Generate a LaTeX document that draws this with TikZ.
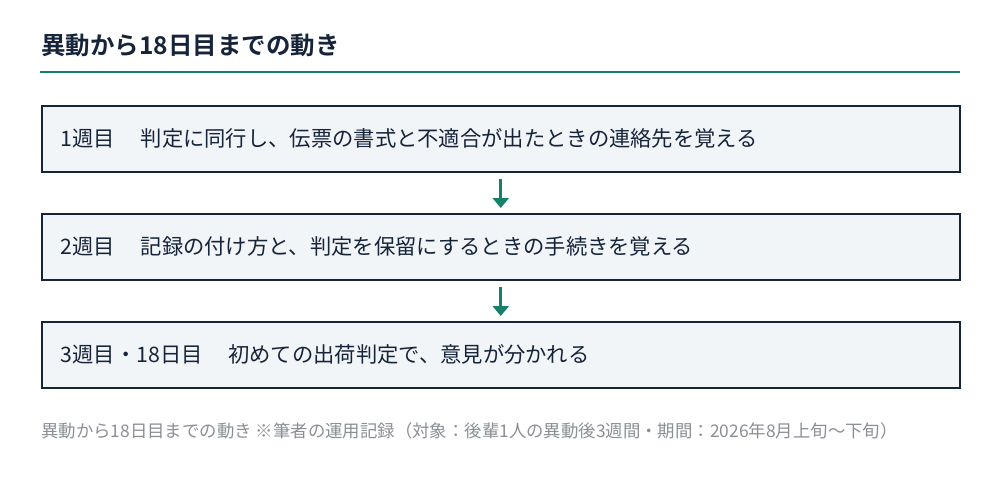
\documentclass[tikz,border=0pt]{standalone}
\usepackage{fontspec}
\setmainfont{Noto Sans CJK JP}
\newfontfamily\jpbold{Noto Sans CJK JP Bold}
\usetikzlibrary{positioning}
\usetikzlibrary{arrows.meta}
\definecolor{navy}{HTML}{16243A}
\definecolor{teal}{HTML}{17806A}
\definecolor{boxfill}{HTML}{F2F5F8}
\definecolor{capgray}{HTML}{8A8F96}

\begin{document}
\begin{tikzpicture}[x=1pt, y=-1pt, >=Stealth,
  weekbox/.style={draw=navy, line width=1.5pt, fill=boxfill, minimum width=918pt,
    minimum height=66pt, anchor=north west, text=navy, font=\fontsize{21.3}{24}\selectfont,
    text width=880pt, align=left, inner xsep=19pt},
  flow/.style={->, teal, line width=2.6pt, shorten <=6pt, shorten >=5pt,
    >={Triangle[length=10pt,width=16pt]}}]

\useasboundingbox (0,0) rectangle (1000,488);

\node [anchor=west, text=navy, font=\jpbold\fontsize{24.5}{28}\selectfont, inner sep=0pt]
  (title) at (41,45) {異動から18日目までの動き};
\draw [teal, line width=2.2pt] (40,72) -- (960,72);

\node [weekbox] (week-1) at (41,105) {1週目\hspace{1.2em}判定に同行し、伝票の書式と不適合が出たときの連絡先を覚える};
\node [weekbox] (week-2) at (41,213) {2週目\hspace{1.2em}記録の付け方と、判定を保留にするときの手続きを覚える};
\node [weekbox] (week-3) at (41,321) {3週目・18日目\hspace{1.2em}初めての出荷判定で、意見が分かれる};

\draw [flow] (week-1) -- (week-2);
\draw [flow] (week-2) -- (week-3);

\node [anchor=west, text=capgray, font=\fontsize{17.4}{20}\selectfont, inner sep=0pt]
  (caption) at (41,431) {異動から18日目までの動き ※筆者の運用記録（対象：後輩1人の異動後3週間・期間：2026年8月上旬〜下旬）};

\end{tikzpicture}
\end{document}
